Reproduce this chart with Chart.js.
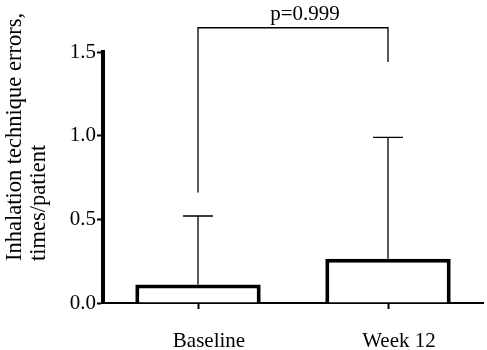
<!DOCTYPE html>
<html>
<head>
<meta charset="utf-8">
<script src="https://cdn.jsdelivr.net/npm/chart.js@4"></script>
<style>
  html, body { margin: 0; padding: 0; background: #fff; }
  #wrap { width: 487px; height: 350px; }
</style>
</head>
<body>
<div id="wrap"><canvas id="chart"></canvas></div>
<script>
// data
var groups = ['Baseline', 'Week 12'];
var means = [0.11, 0.265];
var errTop = [0.52, 0.99];
var yTicks = [0.0, 0.5, 1.0, 1.5];
var yTitle = ['Inhalation technique errors,', 'times/patient'];
var pLabel = 'p=0.999';
// bracket: height of the bar, and where each leg stops
var bracketY = 1.645;
var bracketLegs = [0.66, 1.44];

var serif = '"Liberation Serif", "Times New Roman", serif';

// error bars (upper only), significance bracket, y title
var extras = {
  id: 'extras',
  afterDatasetsDraw: function (chart) {
    var ctx = chart.ctx;
    var xs = chart.scales.x, ys = chart.scales.y;
    ctx.save();
    ctx.strokeStyle = '#000';
    ctx.lineWidth = 1.3;
    for (var i = 0; i < groups.length; i++) {
      var cx = xs.getPixelForValue(i);
      var y0 = ys.getPixelForValue(means[i]);
      var y1 = ys.getPixelForValue(errTop[i]);
      ctx.beginPath();
      ctx.moveTo(cx, y0);
      ctx.lineTo(cx, y1);
      ctx.moveTo(cx - 15, y1);
      ctx.lineTo(cx + 15, y1);
      ctx.stroke();
    }
    var xa = xs.getPixelForValue(0), xb = xs.getPixelForValue(1);
    var yb = ys.getPixelForValue(bracketY);
    ctx.beginPath();
    ctx.moveTo(xa, ys.getPixelForValue(bracketLegs[0]));
    ctx.lineTo(xa, yb);
    ctx.lineTo(xb, yb);
    ctx.lineTo(xb, ys.getPixelForValue(bracketLegs[1]));
    ctx.stroke();
    ctx.fillStyle = '#000';
    ctx.font = '21px ' + serif;
    ctx.textAlign = 'center';
    ctx.textBaseline = 'alphabetic';
    ctx.fillText(pLabel, (xa + xb) / 2 + 12, yb - 8);

    // rotated y title, both lines starting at the same point
    ctx.font = '22.5px ' + serif;
    ctx.textAlign = 'left';
    ctx.textBaseline = 'middle';
    ctx.translate(0, 261);
    ctx.rotate(-Math.PI / 2);
    ctx.fillText(yTitle[0], 0, 15);
    ctx.fillText(yTitle[1], 0, 39);
    ctx.restore();
  }
};

var chart = new Chart(document.getElementById('chart'), {
  type: 'bar',
  data: {
    labels: groups,
    datasets: [{
      data: means,
      backgroundColor: '#fff',
      borderColor: '#000',
      borderWidth: 4,
      borderSkipped: 'bottom',
      barPercentage: 0.66,
      categoryPercentage: 1.0
    }]
  },
  options: {
    responsive: true,
    maintainAspectRatio: false,
    animation: false,
    layout: { padding: { top: 52, right: 4, left: 0, bottom: 0 } },
    plugins: { legend: { display: false }, tooltip: { enabled: false } },
    scales: {
      x: {
        offset: true,
        grid: { display: true, drawOnChartArea: false, offset: false, tickLength: 6, tickWidth: 2, color: '#000' },
        border: { display: true, color: '#000', width: 2 },
        ticks: { color: '#000', font: { family: serif, size: 21 }, padding: 20, labelOffset: 11 },
        afterFit: function (s) { s.height = 47; }
      },
      y: {
        min: 0,
        max: 1.5,
        afterBuildTicks: function (s) { s.ticks = yTicks.map(function (v) { return { value: v }; }); },
        grid: { display: true, drawOnChartArea: false, tickLength: 6, tickWidth: 2, color: '#000' },
        border: { display: true, color: '#000', width: 4 },
        ticks: {
          color: '#000',
          font: { family: serif, size: 21 },
          padding: 1,
          callback: function (v) { return Number(v).toFixed(1); }
        },
        afterFit: function (s) { s.width = 103; }
      }
    }
  },
  plugins: [extras]
});
</script>
</body>
</html>
